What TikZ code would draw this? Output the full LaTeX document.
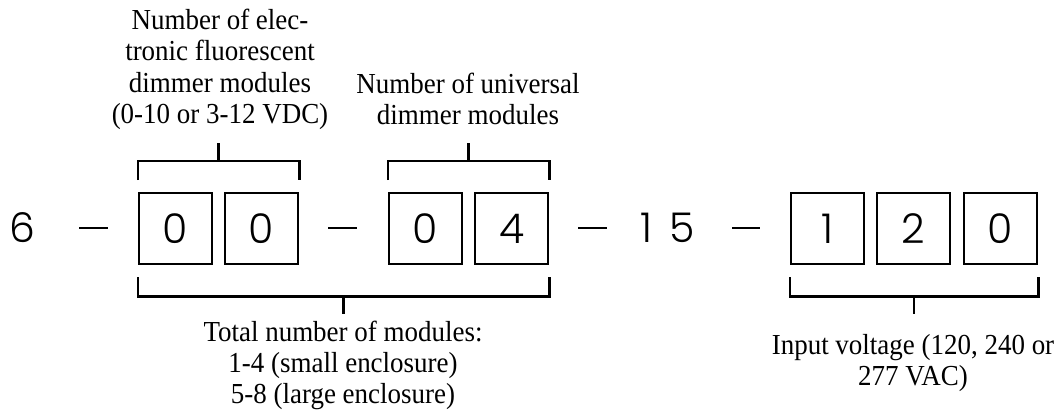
\documentclass[tikz,border=0pt]{standalone}
\usepackage{fontspec}
\setmainfont{Liberation Serif}[FakeStretch=0.93]
\newfontfamily\digitfont{Poppins Light}
\begin{document}
\begin{tikzpicture}[x=1pt,y=-1pt,
  digitbox/.style={draw, line width=2.2pt, minimum width=73pt, minimum height=71pt, inner sep=0pt, font=\digitfont\fontsize{41}{41}\selectfont, anchor=north west},
  digit/.style={inner sep=0pt, font=\digitfont\fontsize{41}{41}\selectfont},
  sep/.style={line width=2pt},
  brace/.style={line width=2.6pt},
  label/.style={inner sep=0pt, anchor=north, align=center, font=\fontsize{29}{31.5}\selectfont},
  labelb/.style={inner sep=0pt, anchor=north, align=center, font=\fontsize{29}{31}\selectfont}]
\useasboundingbox (0,0) rectangle (1057,412);
% leading digits
\node[digit] (six) at (22,228) {6};
\node[digit] (fifteen) at (668,228) {1\ \hspace{6pt}5};
% boxes
\node[digitbox] (b1) at (138,192) {0};
\node[digitbox] (b2) at (224,192) {0};
\node[digitbox] (b3) at (388,192) {0};
\node[digitbox] (b4) at (474,192) {4};
\node[digitbox] (b5) at (790,192) {1};
\node[digitbox] (b6) at (876,192) {2};
\node[digitbox] (b7) at (963,192) {0};
% separators
\coordinate (d1a) at (79,228); \coordinate (d1b) at (108,228);
\coordinate (d2a) at (328,228); \coordinate (d2b) at (357,228);
\coordinate (d3a) at (578,228); \coordinate (d3b) at (607,228);
\coordinate (d4a) at (732,228); \coordinate (d4b) at (760,228);
\draw[sep] (d1a) -- (d1b);
\draw[sep] (d2a) -- (d2b);
\draw[sep] (d3a) -- (d3b);
\draw[sep] (d4a) -- (d4b);
% top brackets
\draw[brace] ([yshift=12pt]b1.north west) |- coordinate[pos=0.75] (t1) ([yshift=31pt]b2.north east) -- ([yshift=12pt]b2.north east);
\draw[brace] (t1) -- ++(0,-18) coordinate (t1s);
\draw[brace] ([yshift=12pt]b3.north west) |- coordinate[pos=0.75] (t2) ([yshift=31pt]b4.north east) -- ([yshift=12pt]b4.north east);
\draw[brace] (t2) -- ++(0,-18) coordinate (t2s);
% bottom brackets
\draw[brace] ([yshift=-12pt]b1.south west) |- coordinate[pos=0.75] (u1) ([yshift=-31pt]b4.south east) -- ([yshift=-12pt]b4.south east);
\draw[brace] (u1) -- ++(0,18) coordinate (u1s);
\draw[brace] ([yshift=-12pt]b5.south west) |- coordinate[pos=0.75] (u2) ([yshift=-31pt]b7.south east) -- ([yshift=-12pt]b7.south east);
\draw[brace] (u2) -- ++(0,18) coordinate (u2s);
% labels
\node[label] (l1) at (220,8.5) {Number of elec-\\tronic fluorescent\\dimmer modules\\(0-10 or 3-12 VDC)};
\node[label] (l2) at (468,72.5) {Number of universal\\dimmer modules};
\node[labelb] (l3) at (343,321) {Total number of modules:\\1-4 (small enclosure)\\5-8 (large enclosure)};
\node[labelb] (l4) at (913,334) {Input voltage (120, 240 or\\277 VAC)};
\end{tikzpicture}
\end{document}
